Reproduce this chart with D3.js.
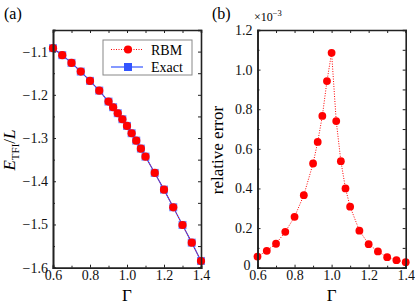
<!DOCTYPE html>
<html>
<head>
<meta charset="utf-8">
<script src="https://cdn.jsdelivr.net/npm/d3@7"></script>
<style>
  body { margin: 0; background: #fff; }
  svg { display: block; font-family: "Liberation Serif", "Times New Roman", serif; }
  svg text { font-family: "Liberation Serif", "Times New Roman", serif; }
</style>
</head>
<body>
<script>
// data
const gamma = [0.6, 0.65, 0.7, 0.75, 0.8, 0.85, 0.9, 0.925, 0.95, 0.975, 1.0,
  1.025, 1.05, 1.075, 1.1, 1.15, 1.2, 1.25, 1.3, 1.35, 1.4];
const energyRBM = [-1.0921, -1.1083, -1.1262, -1.1463, -1.1678, -1.1903, -1.2157,
  -1.2287, -1.2426, -1.2565, -1.2720, -1.2889, -1.3060, -1.3245, -1.3431,
  -1.3808, -1.4194, -1.4602, -1.5012, -1.5421, -1.5845];
const energyExact = [-1.0920, -1.1082, -1.1261, -1.1462, -1.1677, -1.1902, -1.2156,
  -1.2286, -1.2425, -1.2564, -1.2719, -1.2888, -1.3059, -1.3244, -1.3430,
  -1.3807, -1.4193, -1.4601, -1.5011, -1.5420, -1.5844];
// relative error, in units of 1e-3
const relError = [0.056, 0.085, 0.121, 0.181, 0.257, 0.366, 0.526, 0.635, 0.766,
  0.942, 1.085, 0.740, 0.538, 0.400, 0.308, 0.187, 0.119, 0.082, 0.053, 0.038, 0.028];

const xTicks = [0.6, 0.8, 1.0, 1.2, 1.4];
const xMinor = [0.7, 0.9, 1.1, 1.3];
const yTicksA = [-1.1, -1.2, -1.3, -1.4, -1.5, -1.6];
const yMinorA = [-1.15, -1.25, -1.35, -1.45, -1.55];
const yTicksB = [0, 0.2, 0.4, 0.6, 0.8, 1.0, 1.2];
const yMinorB = [0.1, 0.3, 0.5, 0.7, 0.9, 1.1];

const width = 415;
const height = 305;
const red = "#ff0000";
const blue = "#3355ff";
const frame = "#222";
const serif = '"Liberation Serif", "Times New Roman", serif';

const svg = d3.select("body").append("svg")
  .attr("width", width)
  .attr("height", height);

const pts = gamma.map((g, i) => ({ g, rbm: energyRBM[i], ex: energyExact[i], err: relError[i] }));

const fmt = (d) => d3.format(".1f")(d).replace("-", "\u2212");

function frameAxes(g, x, y, yTicks, yMinor, yFmt) {
  const [x0, x1] = x.range();
  const [y0, y1] = y.range();
  const styleAxis = (sel) => {
    sel.attr("font-family", serif).attr("font-size", 14);
    sel.select(".domain").attr("stroke", frame);
    sel.selectAll(".tick line").attr("stroke", frame);
    sel.selectAll("text").style("font-size", "14px").attr("fill", "#111")
      .style("font-family", serif);
  };
  g.append("g").attr("transform", `translate(0,${y0})`)
    .call(d3.axisBottom(x).tickValues(xTicks).tickSize(-3).tickPadding(2).tickFormat(d3.format(".1f")))
    .call(styleAxis);
  g.append("g").attr("transform", `translate(0,${y0})`)
    .call(d3.axisBottom(x).tickValues(xMinor).tickSize(-2).tickFormat(""))
    .call(styleAxis);
  g.append("g").attr("transform", `translate(0,${y1})`)
    .call(d3.axisTop(x).tickValues(xTicks.concat(xMinor)).tickSize(-3).tickFormat(""))
    .call(styleAxis);
  g.append("g").attr("class", "yleft").attr("transform", `translate(${x0},0)`)
    .call(d3.axisLeft(y).tickValues(yTicks).tickSize(-3).tickPadding(5).tickFormat(yFmt))
    .call(styleAxis);
  g.append("g").attr("transform", `translate(${x0},0)`)
    .call(d3.axisLeft(y).tickValues(yMinor).tickSize(-2).tickFormat(""))
    .call(styleAxis);
  g.append("g").attr("transform", `translate(${x1},0)`)
    .call(d3.axisRight(y).tickValues(yTicks.concat(yMinor)).tickSize(-3).tickFormat(""))
    .call(styleAxis);
  g.selectAll(".domain").attr("stroke-width", 1.6);
}

// ---- panel (a)
const xa = d3.scaleLinear().domain([0.6, 1.4]).range([53, 201]);
const ya = d3.scaleLinear().domain([-1.6, -1.05]).range([267.7, 30]);
const ga = svg.append("g");

ga.append("path").datum(pts)
  .attr("fill", "none").attr("stroke", blue).attr("stroke-width", 1.2)
  .attr("d", d3.line().x((d) => xa(d.g)).y((d) => ya(d.ex)));
ga.append("path").datum(pts)
  .attr("fill", "none").attr("stroke", red).attr("stroke-width", 1)
  .attr("stroke-dasharray", "1,1.5")
  .attr("d", d3.line().x((d) => xa(d.g)).y((d) => ya(d.rbm)));
ga.selectAll(".sq").data(pts).enter().append("rect")
  .attr("x", (d) => xa(d.g) - 4).attr("y", (d) => ya(d.ex) - 4)
  .attr("width", 8).attr("height", 8).attr("fill", blue).attr("opacity", 0.7);
ga.selectAll(".dot").data(pts).enter().append("circle")
  .attr("cx", (d) => xa(d.g)).attr("cy", (d) => ya(d.rbm))
  .attr("r", 4.1).attr("fill", red);

frameAxes(ga, xa, ya, yTicksA, yMinorA, fmt);

// legend
const lg = ga.append("g").attr("transform", "translate(103,40)");
lg.append("rect").attr("width", 89).attr("height", 35)
  .attr("fill", "#fff").attr("stroke", "#888").attr("stroke-width", 1);
lg.append("line").attr("x1", 8).attr("x2", 40).attr("y1", 9.5).attr("y2", 9.5)
  .attr("stroke", red).attr("stroke-dasharray", "1,1.5");
lg.append("circle").attr("cx", 25).attr("cy", 9.5).attr("r", 4.1).attr("fill", red);
lg.append("line").attr("x1", 8).attr("x2", 40).attr("y1", 27).attr("y2", 27)
  .attr("stroke", blue).attr("stroke-width", 1.2);
lg.append("rect").attr("x", 21).attr("y", 23).attr("width", 8).attr("height", 8).attr("fill", blue);
lg.append("text").attr("x", 48).attr("y", 14.5).attr("font-size", 14).text("RBM");
lg.append("text").attr("x", 48).attr("y", 32).attr("font-size", 14).text("Exact");

// y label (a)
const yla = svg.append("text")
  .attr("transform", "translate(15,150) rotate(-90)")
  .attr("text-anchor", "middle").attr("font-size", 17);
yla.append("tspan").attr("font-style", "italic").text("E");
yla.append("tspan").attr("font-size", 11).attr("dy", 3.5).text("TFI");
yla.append("tspan").attr("dy", -3.5).text("/");
yla.append("tspan").attr("font-style", "italic").text("L");

svg.append("text").attr("x", 127).attr("y", 301).attr("text-anchor", "middle")
  .attr("font-size", 17).text("\u0393");
svg.append("text").attr("x", 4).attr("y", 19).attr("font-size", 16).text("(a)");

// ---- panel (b)
const xb = d3.scaleLinear().domain([0.6, 1.4]).range([257.5, 405.7]);
const yb = d3.scaleLinear().domain([0, 1.2]).range([267.7, 30]);
const gb = svg.append("g");

gb.append("path").datum(pts)
  .attr("fill", "none").attr("stroke", red).attr("stroke-width", 1)
  .attr("stroke-dasharray", "1,1.5")
  .attr("d", d3.line().x((d) => xb(d.g)).y((d) => yb(d.err)));
gb.selectAll(".dot").data(pts).enter().append("circle")
  .attr("cx", (d) => xb(d.g)).attr("cy", (d) => yb(d.err))
  .attr("r", 3.9).attr("fill", red);

frameAxes(gb, xb, yb, yTicksB, yMinorB, (d) => (d === 0 ? "0" : d3.format(".1f")(d)));
// the "0" label sits a little above and left of the corner, as in the reference
gb.select(".yleft").selectAll(".tick text").filter((d) => d === 0)
  .attr("dy", "0.1em").attr("x", -7);

svg.append("text")
  .attr("transform", "translate(223,150) rotate(-90)")
  .attr("text-anchor", "middle").attr("font-size", 17).text("relative error");
svg.append("text").attr("x", 331.6).attr("y", 301).attr("text-anchor", "middle")
  .attr("font-size", 17).text("\u0393");
svg.append("text").attr("x", 212).attr("y", 19).attr("font-size", 16).text("(b)");
const mult = svg.append("text").attr("x", 254).attr("y", 21).attr("font-size", 12);
mult.append("tspan").text("\u00d710");
mult.append("tspan").attr("font-size", 8.5).attr("dy", -5).text("\u22123");
</script>
</body>
</html>
